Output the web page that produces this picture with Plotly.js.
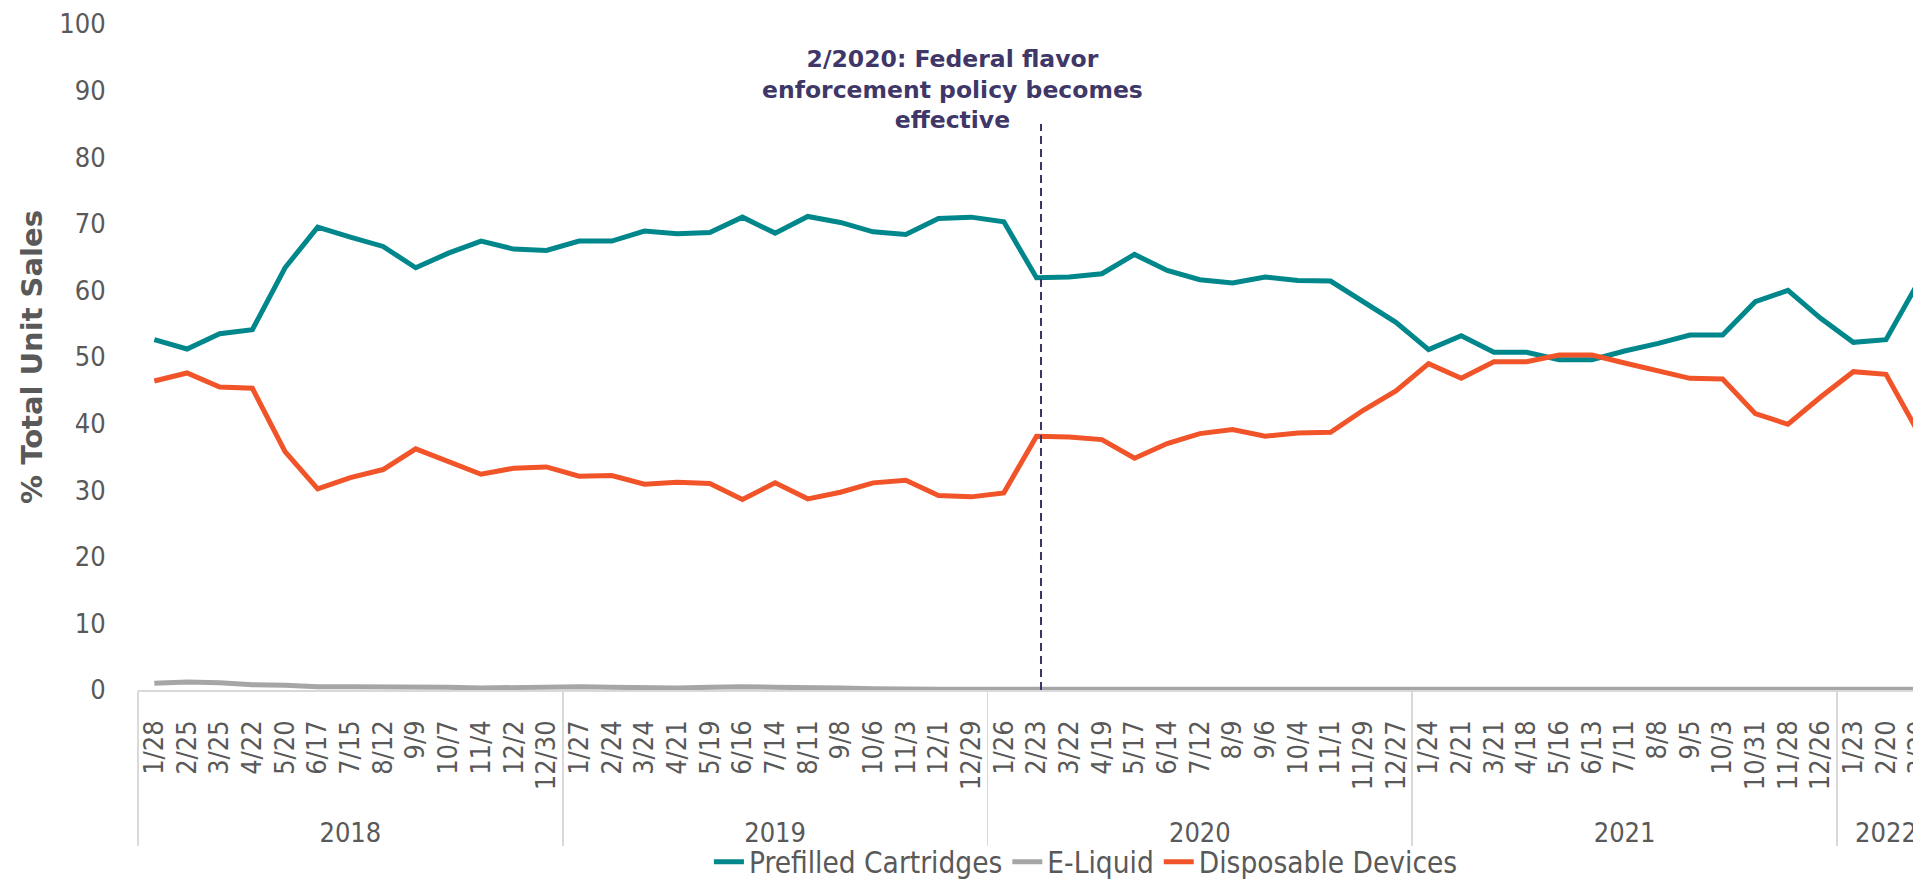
<!DOCTYPE html>
<html>
<head>
<meta charset="utf-8">
<script src="https://cdn.plot.ly/plotly-3.0.1.min.js"></script>
<style>
  html, body { margin: 0; padding: 0; background: #ffffff; overflow: hidden; }
  #chart { width: 1960px; height: 900px; }
</style>
</head>
<body>
<div id="chart"></div>
<script>
// ---- data ----
const years = ["2018", "2019", "2020", "2021", "2022"];
const weeks2018 = ["1/28","2/25","3/25","4/22","5/20","6/17","7/15","8/12","9/9","10/7","11/4","12/2","12/30"];
const weeks2019 = ["1/27","2/24","3/24","4/21","5/19","6/16","7/14","8/11","9/8","10/6","11/3","12/1","12/29"];
const weeks2020 = ["1/26","2/23","3/22","4/19","5/17","6/14","7/12","8/9","9/6","10/4","11/1","11/29","12/27"];
const weeks2021 = ["1/24","2/21","3/21","4/18","5/16","6/13","7/11","8/8","9/5","10/3","10/31","11/28","12/26"];
const weeks2022 = ["1/23","2/20","3/20"];

const prefilledCartridges = [
  52.6, 51.2, 53.5, 54.1, 63.4, 69.5, 68.0, 66.6, 63.4, 65.6, 67.4, 66.2, 66.0,
  67.4, 67.4, 68.9, 68.5, 68.7, 71.0, 68.6, 71.1, 70.2, 68.8, 68.4, 70.8, 71.0,
  70.3, 61.9, 62.0, 62.5, 65.4, 63.0, 61.6, 61.1, 62.0, 61.5, 61.4, 58.2, 55.2,
  51.1, 53.2, 50.7, 50.7, 49.6, 49.6, 50.9, 52.0, 53.3, 53.3, 58.3, 60.0, 55.8,
  52.2, 52.6, 61.3
];
const eLiquid = [
  1.0, 1.2, 1.1, 0.8, 0.7, 0.5, 0.5, 0.5, 0.5, 0.4, 0.3, 0.4, 0.5,
  0.5, 0.4, 0.3, 0.3, 0.4, 0.5, 0.4, 0.4, 0.3, 0.2, 0.1, 0.1, 0.1,
  0.1, 0.1, 0.1, 0.1, 0.1, 0.1, 0.1, 0.1, 0.1, 0.1, 0.1, 0.1, 0.1,
  0.1, 0.1, 0.1, 0.1, 0.1, 0.1, 0.1, 0.1, 0.1, 0.1, 0.1, 0.1, 0.1,
  0.1, 0.1, 0.1
];
const disposableDevices = [
  46.4, 47.6, 45.5, 45.3, 35.8, 30.2, 31.9, 33.1, 36.2, 34.3, 32.4, 33.3, 33.5,
  32.1, 32.2, 30.9, 31.2, 31.0, 28.6, 31.1, 28.7, 29.7, 31.1, 31.5, 29.2, 29.0,
  29.6, 38.1, 38.0, 37.6, 34.8, 37.0, 38.5, 39.1, 38.1, 38.6, 38.7, 42.0, 44.9,
  49.0, 46.8, 49.3, 49.3, 50.3, 50.3, 49.1, 48.0, 46.8, 46.7, 41.5, 39.9, 44.0,
  47.8, 47.4, 38.6
];
const yTicks = [0, 10, 20, 30, 40, 50, 60, 70, 80, 90, 100];
const annotationText = "2/2020: Federal flavor<br>enforcement policy becomes<br>effective";

// ---- build the week axis and the year grouping from the arrays ----
const weeksByYear = [weeks2018, weeks2019, weeks2020, weeks2021, weeks2022];
const weeks = [].concat(...weeksByYear);
const yearCenters = [], yearBounds = [-0.5];
let start = 0;
weeksByYear.forEach(wk => {
  yearCenters.push(start + (wk.length - 1) / 2);
  start += wk.length;
  yearBounds.push(start - 0.5);
});
const xRange = [-0.5, weeks.length - 0.5];

const FONT = "'DejaVu Sans Condensed', 'DejaVu Sans', sans-serif";
const GREY_TEXT = "#595959";

const traces = [
  { name: "Prefilled Cartridges", y: prefilledCartridges, color: "#00878B" },
  { name: "E-Liquid", y: eLiquid, color: "#A6A6A6" },
  { name: "Disposable Devices", y: disposableDevices, color: "#F05428" }
].map(s => ({
  type: "scatter", mode: "lines", name: s.name,
  x: weeks, y: s.y,
  line: { color: s.color, width: 5 },
  hoverinfo: "skip"
}));

// empty helper traces so that the year-divider and year-label axes are drawn
traces.push({
  type: "scatter", mode: "lines", x: yearBounds, y: yearBounds.map(() => null),
  xaxis: "x2", yaxis: "y", showlegend: false, hoverinfo: "skip"
});
traces.push({
  type: "scatter", mode: "lines", x: yearCenters, y: yearCenters.map(() => null),
  xaxis: "x3", yaxis: "y", showlegend: false, hoverinfo: "skip"
});

const layout = {
  width: 1960, height: 900,
  margin: { l: 138, r: 25, t: 24, b: 203 },
  paper_bgcolor: "#ffffff", plot_bgcolor: "#ffffff",
  font: { family: FONT, color: GREY_TEXT, size: 27 },
  showlegend: true,
  legend: {
    orientation: "h", x: 0.5275, xanchor: "center", y: -0.2585, yanchor: "middle",
    font: { family: FONT, size: 29.5, color: GREY_TEXT },
    bgcolor: "rgba(0,0,0,0)", traceorder: "normal"
  },
  // week labels
  xaxis: {
    type: "category",
    range: xRange,
    tickangle: -90,
    tickfont: { family: FONT, size: 27, color: GREY_TEXT },
    ticks: "outside", ticklen: 18, tickcolor: "rgba(0,0,0,0)",
    showline: true, linecolor: "#D9D9D9", linewidth: 1.5,
    showgrid: false, zeroline: false,
    automargin: false, fixedrange: true
  },
  // year dividers
  xaxis2: {
    overlaying: "x", anchor: "y", side: "bottom",
    type: "linear", range: xRange,
    tickmode: "array", tickvals: yearBounds,
    ticks: "outside", ticklen: 155, tickwidth: 1.5, tickcolor: "#D9D9D9",
    showticklabels: false, showline: false, showgrid: false, zeroline: false,
    automargin: false, fixedrange: true
  },
  // year labels
  xaxis3: {
    overlaying: "x", anchor: "y", side: "bottom",
    type: "linear", range: xRange,
    tickmode: "array", tickvals: yearCenters, ticktext: years,
    ticks: "outside", ticklen: 119, tickcolor: "rgba(0,0,0,0)",
    tickfont: { family: FONT, size: 27, color: GREY_TEXT },
    showline: false, showgrid: false, zeroline: false,
    automargin: false, fixedrange: true
  },
  yaxis: {
    range: [0, 100],
    tickvals: yTicks,
    tickfont: { family: FONT, size: 27, color: GREY_TEXT },
    ticks: "outside", ticklen: 26, tickcolor: "rgba(0,0,0,0)",
    showline: false, showgrid: false, zeroline: false,
    title: { text: "% Total Unit Sales", font: { family: "'DejaVu Sans', sans-serif", size: 29, color: GREY_TEXT, weight: "bold" }, standoff: 8 },
    automargin: false, fixedrange: true
  },
  shapes: [{
    type: "line", xref: "paper", yref: "y",
    x0: 0.5025, x1: 0.5025, y0: 0, y1: 85,
    line: { color: "#3D3566", width: 2, dash: "8px,5px" },
    layer: "above"
  }],
  annotations: [{
    xref: "paper", yref: "y", x: 0.4535, y: 90.2,
    xanchor: "center", yanchor: "middle",
    text: annotationText, showarrow: false, align: "center",
    font: { family: "'DejaVu Sans', sans-serif", size: 23.5, color: "#3E3767", weight: "bold" }
  }]
};

Plotly.newPlot("chart", traces, layout, { displayModeBar: false, staticPlot: true });
</script>
</body>
</html>
